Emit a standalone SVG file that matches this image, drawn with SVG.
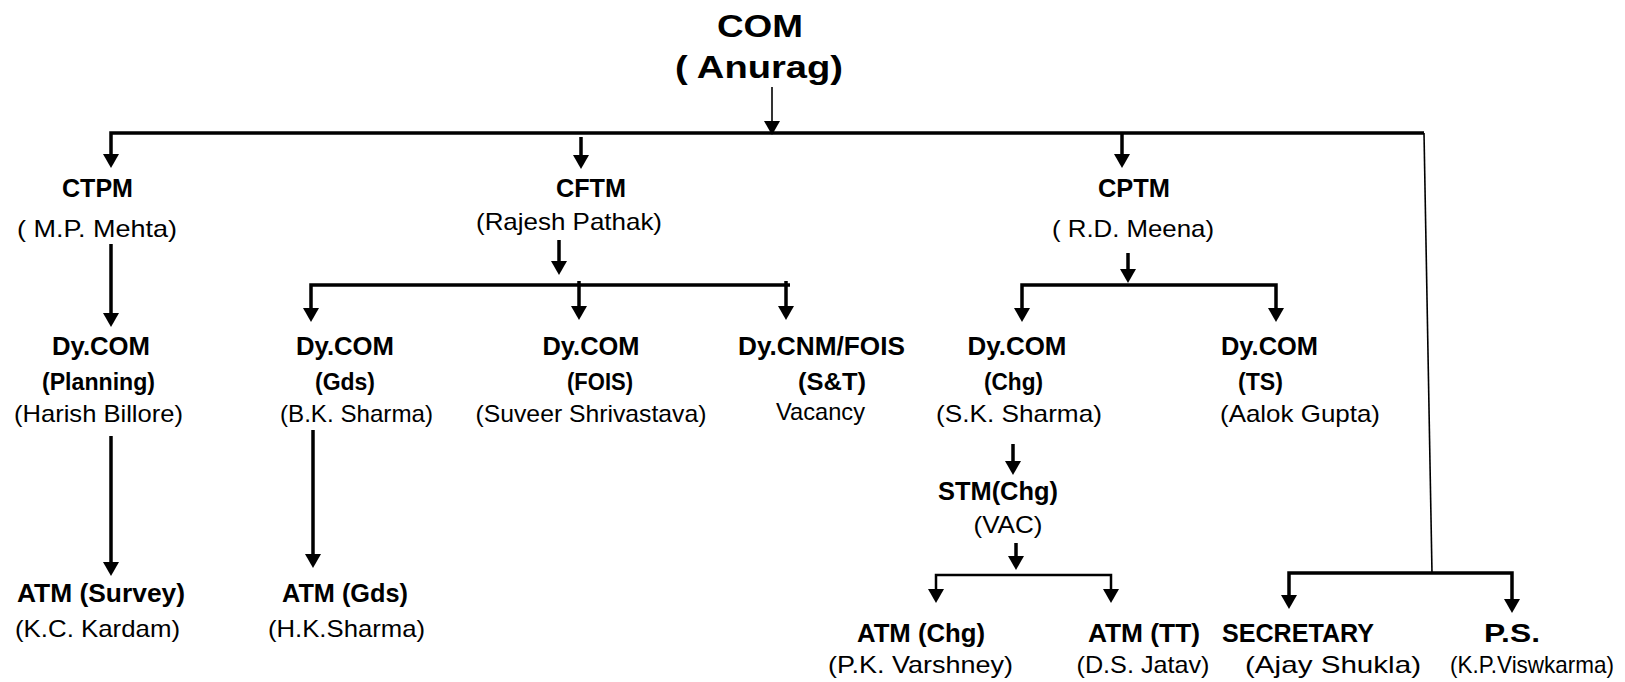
<svg xmlns="http://www.w3.org/2000/svg" width="1625" height="682" viewBox="0 0 1625 682">
<style>
text{font-family:"Liberation Sans",Arial,sans-serif;fill:#000;text-anchor:middle}
.t{font-weight:bold;font-size:32px}
.h{font-weight:bold;font-size:25px}
.d{font-weight:bold;font-size:26px}
.s{font-weight:bold;font-size:23px}
.n{font-size:24px}
.c{fill:none;stroke:#000;stroke-width:3.5;stroke-linejoin:miter}
.c2{fill:none;stroke:#000;stroke-width:2.5}
.c1{fill:none;stroke:#000;stroke-width:1.6}
</style>
<defs>
<marker id="ah" viewBox="0 0 14 16" refX="6" refY="8" markerWidth="14" markerHeight="16" markerUnits="userSpaceOnUse" orient="auto">
<path d="M0,0 L14,8 L0,16 z" fill="#000"/>
</marker>
</defs>
<rect width="1625" height="682" fill="#fff"/>
<g id="connectors">
<path class="c1" d="M772,87 V127" marker-end="url(#ah)"/>
<path class="c" d="M1424,133 H111 V160" marker-end="url(#ah)"/>
<path class="c1" d="M1424,133 L1432,573"/>
<path class="c" d="M581,137 V161" marker-end="url(#ah)"/>
<path class="c" d="M1122,133 V160" marker-end="url(#ah)"/>
<path class="c" d="M111,244 V319" marker-end="url(#ah)"/>
<path class="c" d="M111,436 V568" marker-end="url(#ah)"/>
<path class="c" d="M559,240 V267" marker-end="url(#ah)"/>
<path class="c" d="M790,285 H311 V314" marker-end="url(#ah)"/>
<path class="c" d="M579,281 V312" marker-end="url(#ah)"/>
<path class="c" d="M786,281 V312" marker-end="url(#ah)"/>
<path class="c" d="M313,430 V560" marker-end="url(#ah)"/>
<path class="c" d="M1128,253 V275" marker-end="url(#ah)"/>
<path class="c" d="M1128,285 H1022 V314" marker-end="url(#ah)"/>
<path class="c" d="M1128,285 H1276 V314" marker-end="url(#ah)"/>
<path class="c" d="M1013,444 V467" marker-end="url(#ah)"/>
<path class="c" d="M1016,543 V562" marker-end="url(#ah)"/>
<path class="c2" d="M1016,575 H936 V595" marker-end="url(#ah)"/>
<path class="c2" d="M1016,575 H1111 V595" marker-end="url(#ah)"/>
<path class="c" d="M1432,573 H1289 V601" marker-end="url(#ah)"/>
<path class="c" d="M1432,573 H1512 V605" marker-end="url(#ah)"/>
</g>
<g id="com">
<text class="t" x="760" y="37" textLength="86" lengthAdjust="spacingAndGlyphs">COM</text>
<text class="t" x="759" y="78" textLength="168" lengthAdjust="spacingAndGlyphs">( Anurag)</text>
</g>
<g id="ctpm">
<text class="h" x="97.5" y="197" textLength="71" lengthAdjust="spacingAndGlyphs">CTPM</text>
<text class="n" x="97" y="237" textLength="160" lengthAdjust="spacingAndGlyphs">( M.P. Mehta)</text>
</g>
<g id="cftm">
<text class="h" x="591" y="197" textLength="70" lengthAdjust="spacingAndGlyphs">CFTM</text>
<text class="n" x="569" y="230" textLength="186" lengthAdjust="spacingAndGlyphs">(Rajesh Pathak)</text>
</g>
<g id="cptm">
<text class="h" x="1134" y="197" textLength="72" lengthAdjust="spacingAndGlyphs">CPTM</text>
<text class="n" x="1133" y="237" textLength="162" lengthAdjust="spacingAndGlyphs">( R.D. Meena)</text>
</g>
<g id="dycom-planning">
<text class="d" x="101" y="355" textLength="98" lengthAdjust="spacingAndGlyphs">Dy.COM</text>
<text class="s" x="98.5" y="390" textLength="113" lengthAdjust="spacingAndGlyphs">(Planning)</text>
<text class="n" x="98.5" y="422" textLength="169" lengthAdjust="spacingAndGlyphs">(Harish Billore)</text>
</g>
<g id="dycom-gds">
<text class="d" x="345" y="355" textLength="98" lengthAdjust="spacingAndGlyphs">Dy.COM</text>
<text class="s" x="345" y="390" textLength="60" lengthAdjust="spacingAndGlyphs">(Gds)</text>
<text class="n" x="356.5" y="422" textLength="153" lengthAdjust="spacingAndGlyphs">(B.K. Sharma)</text>
</g>
<g id="dycom-fois">
<text class="d" x="591" y="355" textLength="97" lengthAdjust="spacingAndGlyphs">Dy.COM</text>
<text class="s" x="600" y="390" textLength="66" lengthAdjust="spacingAndGlyphs">(FOIS)</text>
<text class="n" x="591" y="422" textLength="231" lengthAdjust="spacingAndGlyphs">(Suveer Shrivastava)</text>
</g>
<g id="dycnm-fois">
<text class="d" x="821.5" y="355" textLength="167" lengthAdjust="spacingAndGlyphs">Dy.CNM/FOIS</text>
<text class="s" x="832" y="390" textLength="68" lengthAdjust="spacingAndGlyphs">(S&amp;T)</text>
<text class="n" x="820.5" y="420" textLength="89" lengthAdjust="spacingAndGlyphs">Vacancy</text>
</g>
<g id="dycom-chg">
<text class="d" x="1017" y="355" textLength="99" lengthAdjust="spacingAndGlyphs">Dy.COM</text>
<text class="s" x="1013.5" y="390" textLength="59" lengthAdjust="spacingAndGlyphs">(Chg)</text>
<text class="n" x="1019" y="422" textLength="166" lengthAdjust="spacingAndGlyphs">(S.K. Sharma)</text>
</g>
<g id="dycom-ts">
<text class="d" x="1269.5" y="355" textLength="97" lengthAdjust="spacingAndGlyphs">Dy.COM</text>
<text class="s" x="1260.5" y="390" textLength="45" lengthAdjust="spacingAndGlyphs">(TS)</text>
<text class="n" x="1300" y="422" textLength="160" lengthAdjust="spacingAndGlyphs">(Aalok Gupta)</text>
</g>
<g id="atm-survey">
<text class="d" x="101" y="602" textLength="168" lengthAdjust="spacingAndGlyphs">ATM (Survey)</text>
<text class="n" x="97.5" y="637" textLength="165" lengthAdjust="spacingAndGlyphs">(K.C. Kardam)</text>
</g>
<g id="atm-gds">
<text class="d" x="345" y="602" textLength="126" lengthAdjust="spacingAndGlyphs">ATM (Gds)</text>
<text class="n" x="346.5" y="637" textLength="157" lengthAdjust="spacingAndGlyphs">(H.K.Sharma)</text>
</g>
<g id="stm-chg">
<text class="h" x="998" y="500" textLength="120" lengthAdjust="spacingAndGlyphs">STM(Chg)</text>
<text class="n" x="1008" y="533" textLength="69" lengthAdjust="spacingAndGlyphs">(VAC)</text>
</g>
<g id="atm-chg">
<text class="h" x="921" y="642" textLength="128" lengthAdjust="spacingAndGlyphs">ATM (Chg)</text>
<text class="n" x="920.5" y="673" textLength="185" lengthAdjust="spacingAndGlyphs">(P.K. Varshney)</text>
</g>
<g id="atm-tt">
<text class="h" x="1144" y="642" textLength="112" lengthAdjust="spacingAndGlyphs">ATM (TT)</text>
<text class="n" x="1143" y="673" textLength="133" lengthAdjust="spacingAndGlyphs">(D.S. Jatav)</text>
</g>
<g id="secretary">
<text class="h" x="1298" y="642" textLength="152" lengthAdjust="spacingAndGlyphs">SECRETARY</text>
<text class="n" x="1333" y="673" textLength="176" lengthAdjust="spacingAndGlyphs">(Ajay Shukla)</text>
</g>
<g id="ps">
<text class="h" x="1512" y="642" textLength="56" lengthAdjust="spacingAndGlyphs">P.S.</text>
<text class="n" x="1532" y="673" textLength="164" lengthAdjust="spacingAndGlyphs">(K.P.Viswkarma)</text>
</g>
</svg>
